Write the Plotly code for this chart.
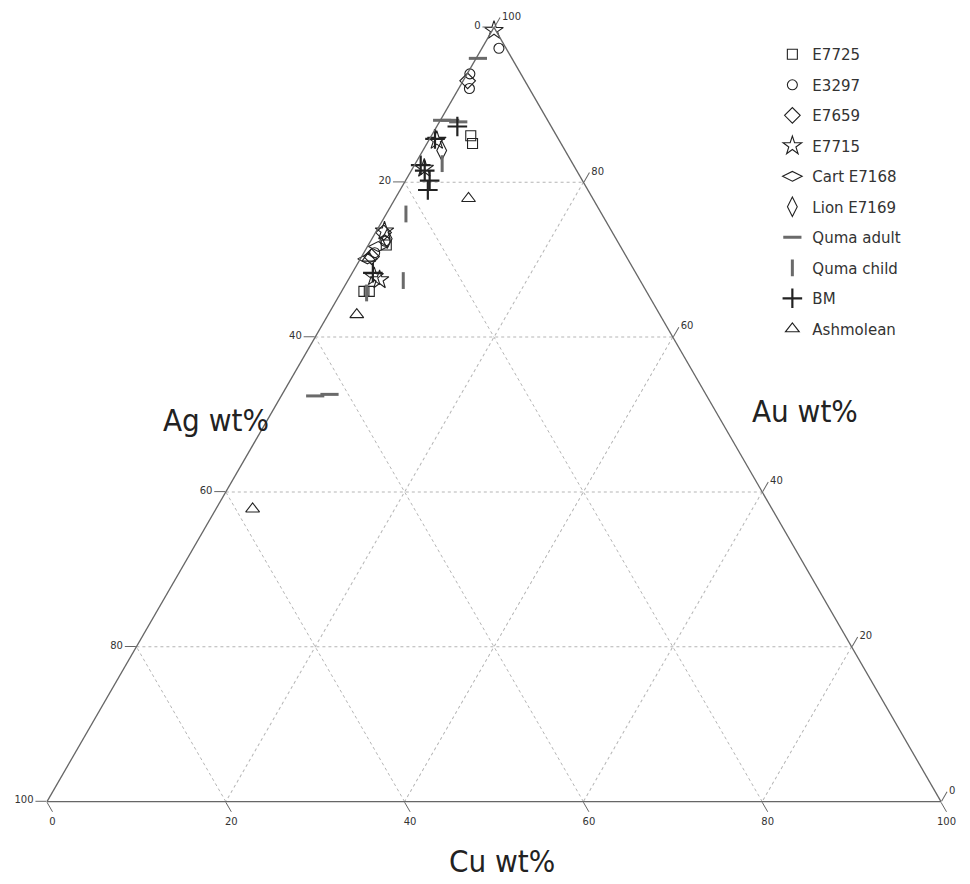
import plotly.graph_objects as go

# ---------------- data (wt%) ----------------
series_names = ["E7725", "E3297", "E7659", "E7715", "Cart E7168", "Lion E7169",
                "Quma adult", "Quma child", "BM", "Ashmolean"]

e7725_au = [86.0, 85.0, 65.9, 65.9, 71.9]
e7725_ag = [9.6, 9.9, 31.6, 31.0, 26.1]
e7725_cu = [4.4, 5.1, 2.5, 3.1, 2.0]

e3297_au = [97.3, 94.0, 92.1, 72.4, 70.9]
e3297_ag = [0.8, 5.7, 6.7, 26.0, 27.9]
e3297_cu = [1.9, 0.3, 1.2, 1.6, 1.2]

e7659_au = [93.1, 73.5, 70.4]
e7659_ag = [6.4, 25.6, 28.5]
e7659_cu = [0.5, 0.9, 1.1]

e7715_au = [99.6, 85.4, 81.8, 73.7, 67.8, 67.4]
e7715_ag = [0.2, 13.7, 16.9, 25.4, 29.5, 29.1]
e7715_cu = [0.2, 0.9, 1.3, 0.9, 2.7, 3.5]

cart_au = [71.7, 70.1]
cart_ag = [27.1, 29.1]
cart_cu = [1.2, 0.8]

lion_au = [84.1, 72.7]
lion_ag = [13.8, 25.6]
lion_cu = [2.1, 1.7]

quma_adult_au = [96.0, 88.0, 88.0, 87.8, 52.4, 52.6]
quma_adult_ag = [3.8, 11.8, 10.9, 10.1, 43.8, 42.1]
quma_adult_cu = [0.2, 0.2, 1.1, 2.1, 3.8, 5.3]

quma_child_au = [82.4, 75.9, 67.3, 65.7]
quma_child_ag = [14.6, 21.9, 26.5, 31.4]
quma_child_cu = [3.0, 2.2, 6.2, 2.9]

bm_au = [87.2, 85.6, 81.5, 80.2, 79.0, 68.3, 82.2]
bm_ag = [10.5, 13.8, 17.0, 17.1, 17.9, 29.4, 17.1]
bm_cu = [2.3, 0.6, 1.5, 2.7, 3.1, 2.3, 0.7]

ash_au = [77.9, 62.9, 37.8, 70.2]
ash_ag = [13.9, 33.9, 58.1, 28.9]
ash_cu = [8.2, 3.2, 4.1, 0.9]

tick_vals = [0, 20, 40, 60, 80, 100]
tick_text_rev = ["100", "80", "60", "40", "20", "0"]

# ---------------- figure ----------------
INK = "#222222"
GREY = "#6a6a6a"

styles = [
    ("square-open", 10, 1.1, INK),
    ("circle-open", 10, 1.1, INK),
    ("diamond-open", 12, 1.1, INK),
    ("star-open", 14, 1.1, INK),
    ("diamond-wide-open", 14, 1.1, INK),
    ("diamond-tall-open", 14, 1.1, INK),
    ("line-ew", 13, 3.0, GREY),
    ("line-ns", 12, 3.0, GREY),
    ("cross-thin", 14, 2.2, INK),
    ("triangle-up-open", 12, 1.1, INK),
]
datasets = [
    (e7725_au, e7725_ag, e7725_cu),
    (e3297_au, e3297_ag, e3297_cu),
    (e7659_au, e7659_ag, e7659_cu),
    (e7715_au, e7715_ag, e7715_cu),
    (cart_au, cart_ag, cart_cu),
    (lion_au, lion_ag, lion_cu),
    (quma_adult_au, quma_adult_ag, quma_adult_cu),
    (quma_child_au, quma_child_ag, quma_child_cu),
    (bm_au, bm_ag, bm_cu),
    (ash_au, ash_ag, ash_cu),
]

fig = go.Figure()
for name, (au, ag, cu), (sym, size, lw, col) in zip(series_names, datasets, styles):
    fig.add_trace(go.Scatterternary(
        a=au, b=ag, c=cu, mode="markers", name=name, legendgroup=name,
        marker=dict(symbol=sym, size=size, color=col, line=dict(color=col, width=lw)),
        cliponaxis=False,
    ))


def axis(ticktext):
    return dict(
        title=dict(text=""), min=0,
        showline=True, linecolor="#666666", linewidth=1.3,
        showgrid=True, gridcolor="#b5b5b5", gridwidth=1, griddash="dot",
        ticks="outside", ticklen=11, tickcolor="#666666", tickwidth=1,
        tickmode="array", tickvals=tick_vals, ticktext=ticktext,
        tickfont=dict(family="DejaVu Sans", size=10, color="#333333"),
    )


TITLE_FONT = dict(family="Liberation Sans Narrow, DejaVu Sans Condensed, Roboto, sans-serif",
                  size=31, color="#222222")

fig.update_layout(
    width=970, height=884,
    margin=dict(l=0, r=0, t=0, b=0),
    paper_bgcolor="white",
    font=dict(family="DejaVu Sans", color="#333333"),
    ternary=dict(
        sum=100,
        domain=dict(x=[39 / 970, 933 / 970], y=[90 / 884, 865 / 884]),
        bgcolor="white",
        aaxis=axis(tick_text_rev),   # Au (top); left edge shows Ag values
        baxis=axis(tick_text_rev),   # Ag (bottom-left); bottom edge shows Cu values
        caxis=axis(tick_text_rev),   # Cu (bottom-right); right edge shows Au values
    ),
    showlegend=True,
    legend=dict(
        x=0.788, y=0.966, xanchor="left", yanchor="top",
        bgcolor="rgba(255,255,255,0)", borderwidth=0,
        font=dict(family="DejaVu Sans", size=15, color="#333333"),
        tracegroupgap=8, itemsizing="trace",
    ),
    annotations=[
        dict(text="Ag wt%", x=208 / 970, y=1 - 412 / 884, xref="paper", yref="paper",
             showarrow=False, xanchor="center", yanchor="middle", font=TITLE_FONT),
        dict(text="Au wt%", x=797 / 970, y=1 - 403 / 884, xref="paper", yref="paper",
             showarrow=False, xanchor="center", yanchor="middle", font=TITLE_FONT),
        dict(text="Cu wt%", x=494 / 970, y=1 - 853 / 884, xref="paper", yref="paper",
             showarrow=False, xanchor="center", yanchor="middle", font=TITLE_FONT),
    ],
)

fig.write_html("out.html")
